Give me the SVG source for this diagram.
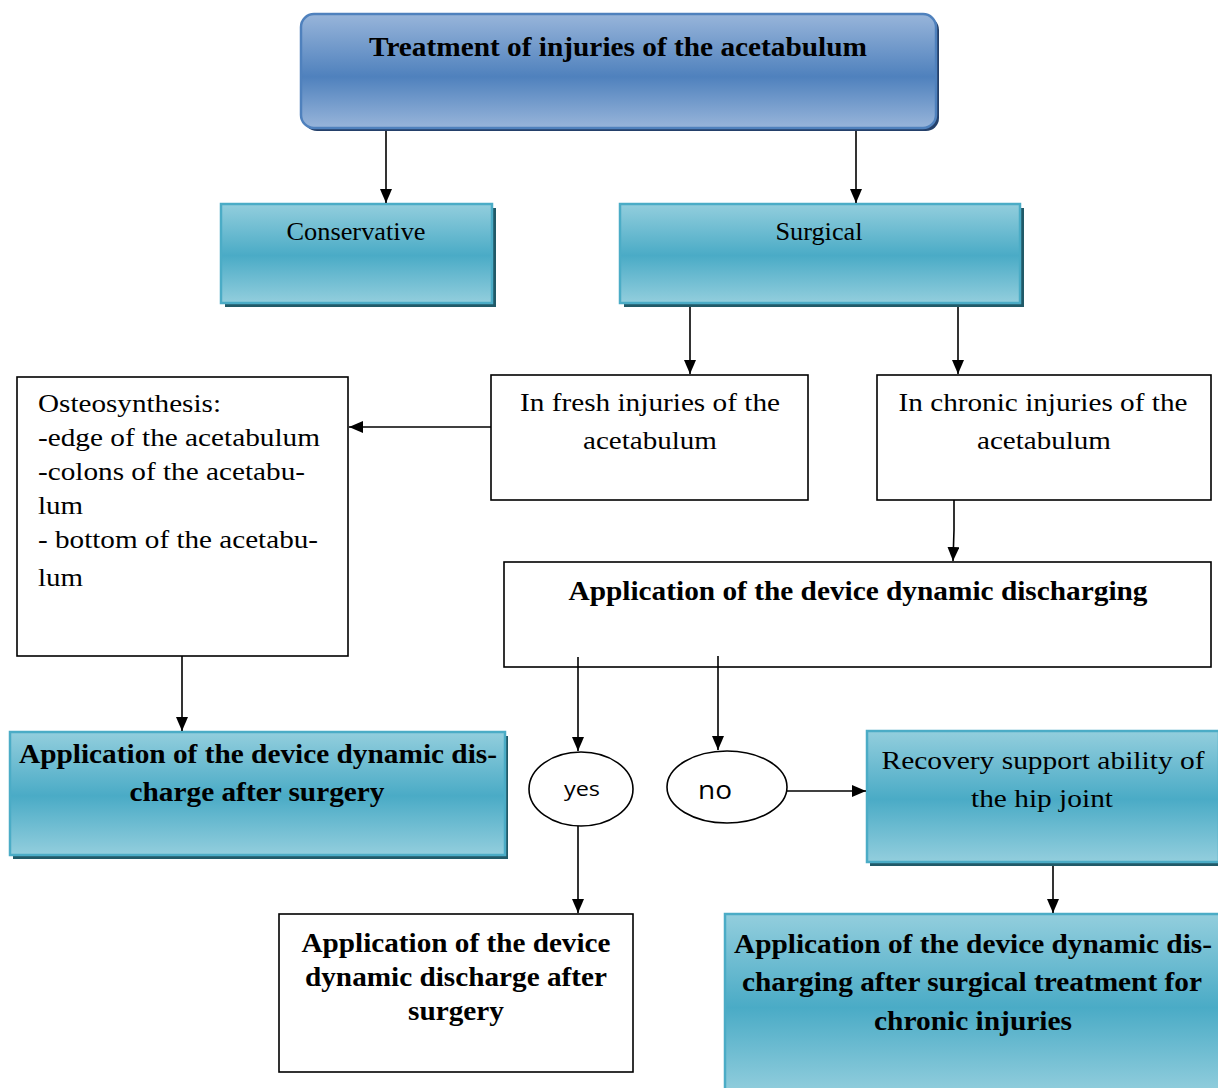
<svg xmlns="http://www.w3.org/2000/svg" width="1218" height="1088" viewBox="0 0 1218 1088">
  <defs>
    <linearGradient id="gBlue" x1="0" y1="0" x2="0" y2="1">
      <stop offset="0" stop-color="#98b5da"/>
      <stop offset="0.55" stop-color="#4f81bd"/>
      <stop offset="1" stop-color="#98b5da"/>
    </linearGradient>
    <linearGradient id="gTeal" x1="0" y1="0" x2="0" y2="1">
      <stop offset="0" stop-color="#93cedd"/>
      <stop offset="0.52" stop-color="#4aabc6"/>
      <stop offset="1" stop-color="#93cedd"/>
    </linearGradient>
    <marker id="arrow" markerUnits="userSpaceOnUse" markerWidth="14" markerHeight="12" refX="14" refY="6" orient="auto">
      <path d="M0,0 L14,6 L0,12 z" fill="#000"/>
    </marker>
  </defs>
  <style>
    .plain { fill: #fff; stroke: #000; stroke-width: 1.6; }
    .teal { fill: url(#gTeal); stroke: #4bacc6; stroke-width: 2.5; }
    .tealShadow { fill: #215a68; }
    .conn { stroke: #000; stroke-width: 1.6; fill: none; marker-end: url(#arrow); }
    .serif { font-family: "Liberation Serif", "Times New Roman", serif; fill: #000; }
    .r { font-size: 26px; }
    .b { font-size: 26.5px; font-weight: bold; }
    .sans { font-family: "Open Sans", "Liberation Sans", sans-serif; fill: #000; }
    .mid { text-anchor: middle; }
  </style>

  <rect width="1218" height="1088" fill="#fff"/>

  <!-- top node -->
  <g id="title">
    <rect x="304" y="17" width="635" height="114" rx="13" fill="#24406a"/>
    <rect x="301" y="14" width="635" height="114" rx="13" fill="url(#gBlue)" stroke="#4f81bd" stroke-width="2.5"/>
    <text class="serif b mid" x="618" y="56" font-size="28" textLength="498" lengthAdjust="spacingAndGlyphs">Treatment of injuries of the acetabulum</text>
  </g>

  <g id="conservative">
    <rect class="tealShadow" x="225" y="208" width="271" height="99"/>
    <rect class="teal" x="221" y="204" width="271" height="99"/>
    <text class="serif r mid" x="356" y="240" textLength="139" lengthAdjust="spacingAndGlyphs">Conservative</text>
  </g>

  <g id="surgical">
    <rect class="tealShadow" x="624" y="208" width="400" height="99"/>
    <rect class="teal" x="620" y="204" width="400" height="99"/>
    <text class="serif r mid" x="819" y="240" textLength="87" lengthAdjust="spacingAndGlyphs">Surgical</text>
  </g>

  <g id="fresh">
    <rect class="plain" x="491" y="375" width="317" height="125"/>
    <text class="serif r mid" x="650" y="411" textLength="260" lengthAdjust="spacingAndGlyphs">In fresh injuries of the</text>
    <text class="serif r mid" x="650" y="449" textLength="134" lengthAdjust="spacingAndGlyphs">acetabulum</text>
  </g>

  <g id="chronic">
    <rect class="plain" x="877" y="375" width="334" height="125"/>
    <text class="serif r mid" x="1043" y="411" textLength="289" lengthAdjust="spacingAndGlyphs">In chronic injuries of the</text>
    <text class="serif r mid" x="1044" y="449" textLength="134" lengthAdjust="spacingAndGlyphs">acetabulum</text>
  </g>

  <g id="osteosynthesis">
    <rect class="plain" x="17" y="377" width="331" height="279"/>
    <text class="serif r" x="38" y="412" textLength="183" lengthAdjust="spacingAndGlyphs">Osteosynthesis:</text>
    <text class="serif r" x="38" y="446" textLength="282" lengthAdjust="spacingAndGlyphs">-edge of the acetabulum</text>
    <text class="serif r" x="38" y="480" textLength="267" lengthAdjust="spacingAndGlyphs">-colons of the acetabu-</text>
    <text class="serif r" x="38" y="514" textLength="45" lengthAdjust="spacingAndGlyphs">lum</text>
    <text class="serif r" x="38" y="548" textLength="280" lengthAdjust="spacingAndGlyphs">- bottom of the acetabu-</text>
    <text class="serif r" x="38" y="586" textLength="45" lengthAdjust="spacingAndGlyphs">lum</text>
  </g>

  <g id="device-discharging">
    <rect class="plain" x="504" y="562" width="707" height="105"/>
    <text class="serif b mid" x="858" y="600" textLength="579" lengthAdjust="spacingAndGlyphs">Application of the device dynamic discharging</text>
  </g>

  <g id="after-surgery-left">
    <rect class="tealShadow" x="13" y="736" width="495" height="123"/>
    <rect class="teal" x="10" y="732" width="495" height="123"/>
    <text class="serif b mid" x="258" y="763" textLength="478" lengthAdjust="spacingAndGlyphs">Application of the device dynamic dis-</text>
    <text class="serif b mid" x="257" y="801" textLength="255" lengthAdjust="spacingAndGlyphs">charge after surgery</text>
  </g>

  <g id="yes">
    <ellipse cx="581" cy="789" rx="52" ry="37" fill="#fff" stroke="#000" stroke-width="1.6"/>
    <text class="sans mid" x="582" y="796" font-size="20" textLength="36" lengthAdjust="spacingAndGlyphs">yes</text>
  </g>

  <g id="no">
    <ellipse cx="727" cy="787" rx="60" ry="36" fill="#fff" stroke="#000" stroke-width="1.6"/>
    <text class="sans mid" x="715" y="799" font-size="26" textLength="34" lengthAdjust="spacingAndGlyphs">no</text>
  </g>

  <g id="recovery">
    <rect class="tealShadow" x="870" y="735" width="352" height="131"/>
    <rect class="teal" x="867" y="731" width="352" height="131"/>
    <text class="serif r mid" x="1043" y="769" textLength="323" lengthAdjust="spacingAndGlyphs">Recovery support ability of</text>
    <text class="serif r mid" x="1042" y="807" textLength="142" lengthAdjust="spacingAndGlyphs">the hip joint</text>
  </g>

  <g id="after-surgery-middle">
    <rect class="plain" x="279" y="914" width="354" height="158"/>
    <text class="serif b mid" x="456" y="952" textLength="309" lengthAdjust="spacingAndGlyphs">Application of the device</text>
    <text class="serif b mid" x="456" y="986" textLength="302" lengthAdjust="spacingAndGlyphs">dynamic discharge after</text>
    <text class="serif b mid" x="456" y="1020" textLength="96" lengthAdjust="spacingAndGlyphs">surgery</text>
  </g>

  <g id="after-surgery-chronic">
    <rect class="teal" x="725" y="914" width="500" height="180"/>
    <text class="serif b mid" x="973" y="953" textLength="478" lengthAdjust="spacingAndGlyphs">Application of the device dynamic dis-</text>
    <text class="serif b mid" x="972" y="991" textLength="460" lengthAdjust="spacingAndGlyphs">charging after surgical treatment for</text>
    <text class="serif b mid" x="973" y="1030" textLength="198" lengthAdjust="spacingAndGlyphs">chronic injuries</text>
  </g>

  <!-- connectors -->
  <g id="connectors">
    <line class="conn" x1="386" y1="131" x2="386" y2="203"/>
    <line class="conn" x1="856" y1="131" x2="856" y2="203"/>
    <line class="conn" x1="690" y1="307" x2="690" y2="374"/>
    <line class="conn" x1="958" y1="307" x2="958" y2="374"/>
    <line class="conn" x1="491" y1="427" x2="349" y2="427"/>
    <line class="conn" x1="182" y1="656" x2="182" y2="731"/>
    <polyline class="conn" points="954,500 954,530 953,561"/>
    <line class="conn" x1="578" y1="657" x2="578" y2="751"/>
    <line class="conn" x1="718" y1="656" x2="718" y2="750"/>
    <line class="conn" x1="787" y1="791" x2="866" y2="791"/>
    <line class="conn" x1="578" y1="826" x2="578" y2="913"/>
    <line class="conn" x1="1053" y1="866" x2="1053" y2="913"/>
  </g>
</svg>
